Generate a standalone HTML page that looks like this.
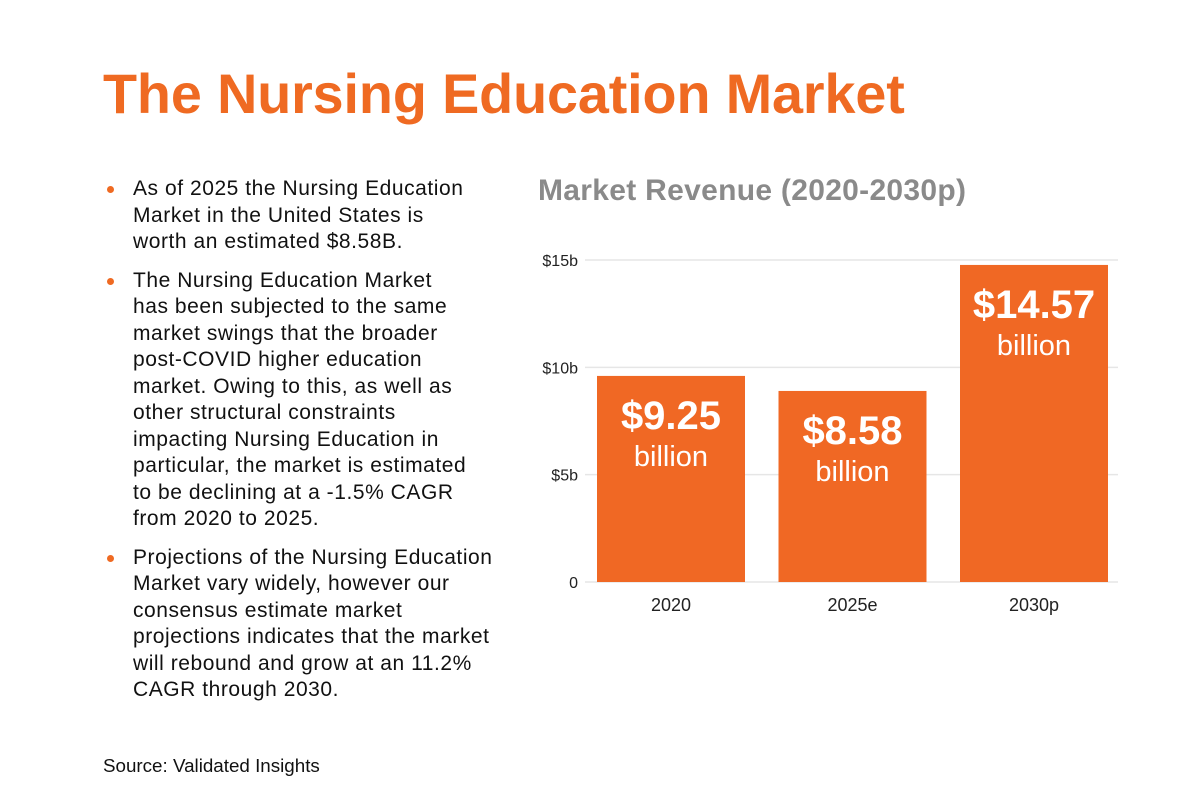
<!DOCTYPE html>
<html><head><meta charset="utf-8"><style>
body{margin:0;background:#fff;font-family:"Liberation Sans",Arial,sans-serif;}
#page{position:relative;width:1200px;height:800px;overflow:hidden;background:#fff;}
h1{position:absolute;left:103px;top:62px;margin:0;font-size:55.7px;font-weight:bold;color:#ef6a22;letter-spacing:-0.1px;}
ul{position:absolute;left:104px;top:176px;width:440px;margin:0;padding:0;list-style:none;font-size:21px;letter-spacing:0.55px;line-height:26.5px;color:#111;white-space:nowrap;}
li{position:relative;padding-left:29px;margin-bottom:12px;}
li::before{content:"";position:absolute;left:3px;top:10px;width:7px;height:7px;border-radius:50%;background:#ef6a22;}
.src{position:absolute;left:103px;top:755px;font-size:18.8px;color:#111;}
.ct{position:absolute;left:538px;top:174px;font-size:30px;letter-spacing:0.3px;font-weight:bold;color:#8a8a8a;}
svg{position:absolute;left:0;top:0;}
</style></head><body><div id="page">
<h1>The Nursing Education Market</h1>
<ul>
<li>As of 2025 the Nursing Education<br>Market in the United States is<br>worth an estimated $8.58B.</li>
<li>The Nursing Education Market<br>has been subjected to the same<br>market swings that the broader<br>post-COVID higher education<br>market. Owing to this, as well as<br>other structural constraints<br>impacting Nursing Education in<br>particular, the market is estimated<br>to be declining at a -1.5% CAGR<br>from 2020 to 2025.</li>
<li>Projections of the Nursing Education<br>Market vary widely, however our<br>consensus estimate market<br>projections indicates that the market<br>will rebound and grow at an 11.2%<br>CAGR through 2030.</li>
</ul>
<div class="src">Source: Validated Insights</div>
<div class="ct">Market Revenue (2020-2030p)</div>
<svg id="chart" width="1200" height="800"></svg>
</div>
<script>
const categories=["2020","2025e","2030p"];
const values=[9.6,8.9,14.77];
const valueLabels=["$9.25","$8.58","$14.57"];
const ticks=[0,5,10,15];
const tickLabels=["0","$5b","$10b","$15b"];
const NS="http://www.w3.org/2000/svg";
const svg=document.getElementById('chart');
const y0=582,y15=260,xl=585,xr=1118,bw=148;
const y=v=>y0-(y0-y15)*v/15;
const bandX=i=>597+i*181.5;
function mk(t,a,txt){const e=document.createElementNS(NS,t);for(const k in a)e.setAttribute(k,a[k]);if(txt!==undefined)e.textContent=txt;svg.appendChild(e);return e;}
ticks.forEach((t,i)=>{
 const l=mk('line',{x1:xl,x2:xr,y1:y(t),y2:y(t),stroke:'#e6e6e6','stroke-width':1.5});
 
 
 const tx=mk('text',{x:578,y:y(t)+6,'text-anchor':'end','font-size':16,fill:'#222','font-family':'Liberation Sans'},tickLabels[i]);
 
 
});
categories.forEach((c,i)=>{
 const x=bandX(i),top=y(values[i]),cx=x+bw/2;
 const r=mk('rect',{x:x,y:top,width:bw,height:y0-top,fill:'#f06824'});
 
 
 const v=mk('text',{x:cx,y:top+53,'text-anchor':'middle','font-size':40,'font-weight':'bold',fill:'#fff','font-family':'Liberation Sans'},valueLabels[i]);
 
 
 const b=mk('text',{x:cx,y:top+90,'text-anchor':'middle','font-size':29,fill:'#fff','font-family':'Liberation Sans'},'billion');
 
 
 const xt=mk('text',{x:cx,y:611,'text-anchor':'middle','font-size':18,fill:'#222','font-family':'Liberation Sans'},c);
 
 
});
</script>
</body></html>
